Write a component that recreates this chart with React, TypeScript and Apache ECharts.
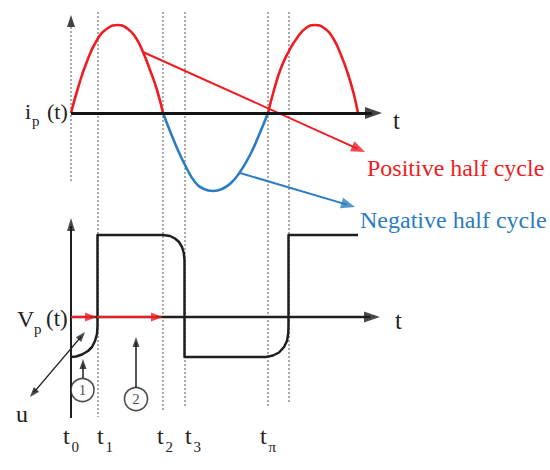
import { useEffect, useRef } from "react";
import * as echarts from "echarts";

// ---- figure data (figure units: x = time axis, y = vertical position, both in the 550x470 frame) ----
const positiveHalf1 = [
  [71, 113], [78, 88], [86, 64], [97, 40], [108, 28], [118, 25], [128, 29],
  [136, 38], [143, 52], [150, 70], [157, 90], [163, 113],
];
const negativeHalf = [
  [163, 113], [170, 131], [177, 148], [186, 167], [195, 182], [204, 189], [213, 191],
  [222, 189], [231, 183], [240, 172], [250, 155], [259, 135], [268, 113],
];
const positiveHalf2 = [
  [268, 113], [274, 90], [281, 68], [289, 51], [297, 38], [306, 28], [315, 25],
  [324, 28], [333, 38], [341, 55], [348, 74], [354, 95], [358, 113],
];
const squareWave = [
  [71, 357], [76, 356.5], [82, 354.5], [88, 351], [92, 347], [95, 341], [97, 334],
  [97.5, 326], [97.5, 235], [163, 235], [170, 236], [175, 238.5], [179, 242],
  [182, 247], [183.8, 253], [184.5, 260], [184.5, 357], [266, 357], [273, 355.5],
  [279, 352.5], [284, 347], [287, 341], [288.3, 333], [288.5, 325], [288.5, 235], [358, 235],
];

const guideTimes = [97.5, 163, 184.5, 268, 288.5];
const guideEnds = [417, 411, 408, 408, 403];
const guideStart = 12;

const tickSubs = ["0", "1", "2", "3", "π"];
const tickLabelX = [63, 97, 157, 185, 260];

const tAxisTop = [[71, 113], [382, 113]];
const tAxisBottom = [[71, 317], [380, 317]];
const vAxisTop = [[71, 182], [71, 15]];
const vAxisBottom = [[71, 418], [71, 218]];
const positiveArrow = [[143, 52], [365, 152]];
const negativeArrow = [[240, 173], [355, 207]];
const intervalArrows = [
  [[71, 317], [97, 317]],
  [[97, 317], [163, 317]],
];
const uArrow = [[30, 397], [85, 332]];
const markerArrows = [
  [[83, 378], [83, 359]],
  [[136, 388], [136, 337]],
];
const markerCircles = [
  [82.5, 390, "1"],
  [136, 399, "2"],
];

const RED = "#f01c24";
const BLUE = "#2b7cc0";
const BLACK = "#141414";
const SERIF = "Liberation Serif";

type P = number[];

function head(from: P, to: P, w: number, len: number, color: string) {
  const dx = to[0] - from[0];
  const dy = to[1] - from[1];
  const L = Math.hypot(dx, dy);
  const ux = dx / L, uy = dy / L;
  return {
    value: [to[0] - (ux * len) / 2, to[1] - (uy * len) / 2],
    symbolSize: [w, len],
    symbolRotate: (Math.atan2(-ux, -uy) * 180) / Math.PI,
    itemStyle: { color },
  };
}

function shaft(from: P, to: P, len: number, shortenStart = 0) {
  const dx = to[0] - from[0];
  const dy = to[1] - from[1];
  const L = Math.hypot(dx, dy);
  const ux = dx / L, uy = dy / L;
  return [
    [from[0] + ux * shortenStart, from[1] + uy * shortenStart],
    [to[0] - ux * len * 0.6, to[1] - uy * len * 0.6],
  ];
}

function txt(text: string, x: number, y: number, size: number, color = "#222") {
  return {
    type: "text",
    x,
    y,
    silent: true,
    z: 100,
    style: {
      text,
      fill: color,
      font: `${size}px "${SERIF}"`,
      fontSize: size,
      fontFamily: SERIF,
      align: "left",
      verticalAlign: "middle",
      textAlign: "left",
      textVerticalAlign: "middle",
    },
  };
}

export default function App() {
  const ref = useRef<HTMLDivElement>(null);

  useEffect(() => {
    if (!ref.current) return;
    const chart = echarts.init(ref.current, undefined, { renderer: "svg" });

    const seg = (pts: P[], color: string, width: number, type: any = "solid") => ({
      coords: pts,
      lineStyle: { color, width, type, opacity: 1 },
    });

    const guides = guideTimes.map((t, i) =>
      seg([[t, guideStart], [t, guideEnds[i]]], "#8f8f8f", 1.5, [2, 2])
    );
    guides.push(seg([[71, 27], [71, 182]], "#8f8f8f", 1.5, [2, 2]));

    const annotationLines = [
      seg(shaft(positiveArrow[0], positiveArrow[1], 14), RED, 2),
      seg(shaft(negativeArrow[0], negativeArrow[1], 14), BLUE, 2),
    ];

    const axisLines = [
      seg(shaft(tAxisTop[0], tAxisTop[1], 17), BLACK, 3.2),
      seg(shaft(tAxisBottom[0], tAxisBottom[1], 16), "#1e1e1e", 2.4),
      seg(shaft(vAxisBottom[0], vAxisBottom[1], 13), "#1e1e1e", 2),
    ];

    const redIntervals = intervalArrows.map((a) => seg(shaft(a[0], a[1], 12), RED, 2));

    const thinArrows = [
      seg(shaft(uArrow[0], uArrow[1], 10, 6), "#1e1e1e", 1.4),
      ...markerArrows.map((a) => seg(shaft(a[0], a[1], 9), "#1e1e1e", 1.5)),
    ];

    const heads = [
      head(tAxisTop[0], tAxisTop[1], 12, 17, BLACK),
      head(tAxisBottom[0], tAxisBottom[1], 11, 16, "#1e1e1e"),
      head(vAxisTop[0], vAxisTop[1], 8, 12, BLACK),
      head(vAxisBottom[0], vAxisBottom[1], 8, 13, "#1e1e1e"),
      head(positiveArrow[0], positiveArrow[1], 11, 14, RED),
      head(negativeArrow[0], negativeArrow[1], 11, 14, BLUE),
      ...intervalArrows.map((a) => head(a[0], a[1], 9, 12, RED)),
      head(uArrow[0], uArrow[1], 7, 10, "#1e1e1e"),
      head(uArrow[1], uArrow[0], 7, 10, "#1e1e1e"),
      ...markerArrows.map((a) => head(a[0], a[1], 7, 10, "#1e1e1e")),
    ];

    const linesSeries = (id: string, data: any[], z: number) => ({
      id,
      type: "lines",
      coordinateSystem: "cartesian2d",
      polyline: false,
      symbol: "none",
      silent: true,
      z,
      data,
    });

    const curve = (id: string, data: number[][], color: string, z: number) => ({
      id,
      type: "line",
      data,
      smooth: true,
      symbol: "none",
      silent: true,
      z,
      lineStyle: { color, width: 2.6 },
    });

    const graphics: any[] = [
      txt("i", 25, 111.6, 22),
      txt("p", 32, 121, 15),
      txt("(t)", 47, 111.6, 22),
      txt("V", 17, 319, 24),
      txt("p", 34, 329, 15),
      txt("(t)", 46, 318.5, 23),
      txt("t", 393, 120, 25),
      txt("t", 395, 320, 25),
      txt("u", 16, 414, 24),
      txt("Positive half cycle", 367, 168, 24, RED),
      txt("Negative half cycle", 360, 220, 24, BLUE),
    ];
    tickSubs.forEach((s, i) => {
      graphics.push(txt("t", tickLabelX[i], 436, 24));
      graphics.push(txt(s, tickLabelX[i] + 8.5, 447, 15));
    });

    chart.setOption({
      animation: false,
      backgroundColor: "#ffffff",
      grid: { left: 0, top: 0, right: 0, bottom: 0 },
      xAxis: { type: "value", min: 0, max: 550, show: false },
      yAxis: { type: "value", min: 0, max: 470, inverse: true, show: false },
      series: [
        linesSeries("guides", guides, 1),
        curve("pos1", positiveHalf1, RED, 3),
        curve("neg", negativeHalf, BLUE, 3),
        curve("pos2", positiveHalf2, RED, 3),
        linesSeries("annot", annotationLines, 4),
        linesSeries("axes", axisLines, 5),
        {
          id: "square",
          type: "line",
          data: squareWave,
          smooth: false,
          symbol: "none",
          silent: true,
          z: 6,
          lineStyle: { color: "#1e1e1e", width: 2.5, join: "round" },
        },
        linesSeries("intervals", redIntervals, 7),
        linesSeries("thin", thinArrows, 7),
        {
          id: "circles",
          type: "scatter",
          silent: true,
          z: 8,
          symbol: "circle",
          symbolSize: 23,
          data: markerCircles.map((c) => ({ value: [c[0], c[1]], name: c[2] })),
          itemStyle: { color: "#ffffff", borderColor: "#222", borderWidth: 1.6 },
          label: {
            show: true,
            position: "inside",
            formatter: (p: any) => p.name,
            fontFamily: SERIF,
            fontSize: 15,
            color: "#222",
          },
        },
        {
          id: "heads",
          type: "scatter",
          silent: true,
          z: 9,
          symbol: "triangle",
          data: heads,
        },
      ],
      graphic: graphics,
    });

    return () => chart.dispose();
  }, []);

  return (
    <div
      ref={ref}
      style={{ position: "fixed", left: 0, top: 0, width: 550, height: 470, background: "#fff" }}
    />
  );
}
